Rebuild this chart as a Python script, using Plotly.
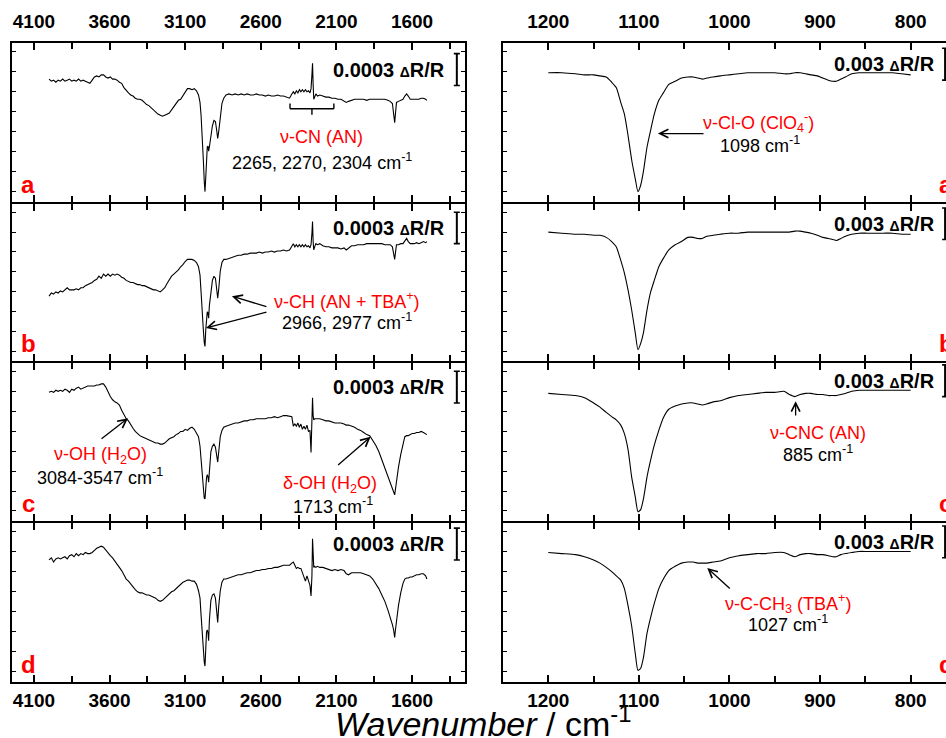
import plotly.graph_objects as go

# ---------------- spectra ----------------
# Mid-IR window (left column), wavenumber in cm-1
WN_MID = [4000, 3985, 3970, 3955, 3940, 3925, 3910, 3895, 3880, 3865,
          3850, 3835, 3820, 3805, 3790, 3775, 3760, 3745, 3730, 3715,
          3700, 3685, 3670, 3655, 3640, 3625, 3610, 3595, 3580, 3565,
          3550, 3535, 3520, 3505, 3490, 3475, 3460, 3445, 3430, 3415,
          3400, 3385, 3370, 3355, 3340, 3325, 3310, 3295, 3280, 3265,
          3250, 3235, 3220, 3205, 3190, 3175, 3160, 3145, 3130, 3115,
          3100, 3085, 3070, 3055, 3040, 3025, 3012, 3002, 2995, 2988,
          2980, 2974, 2969, 2964, 2959, 2954, 2949, 2945, 2940, 2930,
          2920, 2910, 2900, 2892, 2885, 2878, 2868, 2857, 2845, 2830,
          2810, 2790, 2770, 2750, 2730, 2710, 2690, 2670, 2650, 2630,
          2610, 2590, 2570, 2550, 2530, 2510, 2490, 2470, 2450, 2430,
          2410, 2395, 2385, 2375, 2365, 2355, 2345, 2335, 2325, 2315,
          2305, 2295, 2285, 2275, 2268, 2262, 2258, 2254, 2250, 2244,
          2236, 2225, 2210, 2190, 2170, 2150, 2130, 2110, 2090, 2070,
          2050, 2035, 2020, 2000, 1980, 1960, 1940, 1920, 1900, 1880,
          1860, 1840, 1820, 1800, 1780, 1760, 1745, 1730, 1722, 1715,
          1710, 1703, 1690, 1675, 1660, 1648, 1636, 1625, 1612, 1600,
          1585, 1570, 1555, 1540, 1525, 1510, 1502]

# dR/R (x 1e-5, offset per trace)
MID_A = [116, 114, 115, 113, 115, 114, 116, 114, 115, 116,
         114, 115, 114, 116, 114, 115, 114, 113, 112, 115,
         118, 119, 118, 120, 120, 118, 117, 118, 116, 116,
         115, 113, 112, 108, 105, 103, 101, 100, 98, 97,
         97, 96, 94, 92, 91, 89, 87, 85, 83, 82,
         81, 82, 83, 84, 87, 90, 93, 96, 97, 100,
         104, 107, 107, 106, 107, 105, 101, 94, 82, 67,
         40, 20, 10, 23, 45, 52, 53, 48, 52, 64,
         72, 77, 76, 68, 60, 67, 82, 93, 98, 101,
         102, 101, 102, 101, 102, 101, 102, 101, 101, 102,
         101, 101, 100, 101, 100, 100, 101, 100, 100, 99,
         98, 102, 104, 102, 105, 103, 106, 104, 106, 104,
         106, 104, 105, 103, 107, 120, 131, 111, 97, 99,
         102, 100, 101, 100, 99, 99, 98, 98, 97, 97,
         95, 94, 95, 96, 97, 97, 97, 97, 96, 97,
         97, 97, 97, 97, 97, 96, 95, 93, 85, 75,
         83, 94, 95, 96, 97, 100, 102, 100, 97, 97,
         97, 97, 97, 98, 98, 97, 96]

MID_B = [62, 65, 64, 66, 65, 67, 66, 68, 70, 68,
         68, 68, 69, 68, 70, 70, 72, 73, 74, 75,
         77, 78, 81, 79, 83, 81, 83, 81, 83, 82,
         83, 82, 80, 79, 77, 76, 75, 75, 74, 73,
         73, 72, 72, 71, 70, 69, 68, 68, 67, 66,
         68, 70, 74, 78, 81, 83, 85, 87, 90, 92,
         95, 97, 97, 97, 96, 94, 90, 82, 66, 44,
         30, 18, 14, 30, 44, 47, 46, 41, 53, 67,
         77, 81, 79, 69, 60, 69, 86, 94, 97, 97,
         98, 99, 100, 101, 101, 102, 102, 103, 103, 103,
         104, 103, 104, 104, 105, 104, 105, 105, 106, 105,
         106, 110, 112, 109, 111, 109, 111, 109, 111, 109,
         111, 109, 110, 108, 111, 122, 133, 114, 106, 109,
         112, 111, 112, 110, 109, 109, 108, 108, 108, 107,
         108, 106, 108, 110, 110, 111, 111, 111, 112, 112,
         112, 112, 112, 112, 111, 111, 111, 109, 103, 97,
         103, 111, 111, 112, 112, 114, 117, 114, 112, 112,
         112, 113, 112, 113, 114, 113, 114]

MID_C = [122, 123, 122, 124, 123, 124, 123, 125, 124, 122,
         125, 124, 126, 127, 125, 126, 127, 128, 128, 128,
         128, 129, 129, 130, 130, 127, 122, 118, 115, 113,
         112, 110, 105, 101, 97, 95, 91, 88, 85, 83,
         81, 80, 79, 78, 77, 76, 75, 74, 74, 73,
         73, 74, 76, 78, 79, 80, 82, 83, 85, 85,
         87, 86, 88, 89, 87, 83, 80, 71, 58, 44,
         30, 22, 21, 35, 41, 44, 42, 37, 51, 66,
         71, 73, 70, 63, 56, 66, 80, 86, 89, 90,
         91, 92, 93, 93, 94, 95, 95, 96, 96, 97,
         97, 97, 97, 98, 98, 99, 98, 99, 100, 100,
         99, 99, 90, 92, 90, 93, 89, 92, 87, 90,
         87, 91, 85, 86, 65, 86, 117, 100, 96, 97,
         97, 97, 97, 96, 95, 95, 94, 93, 93, 93,
         92, 91, 91, 90, 89, 87, 86, 84, 82, 81,
         77, 72, 66, 58, 51, 42, 37, 31, 27, 25,
         30, 39, 51, 63, 74, 80, 81, 81, 82, 83,
         83, 84, 84, 85, 84, 83, 82]

MID_D = [115, 117, 113, 116, 117, 116, 117, 118, 116, 119,
         120, 118, 121, 119, 121, 120, 122, 121, 121, 122,
         124, 126, 127, 128, 127, 124, 121, 119, 117, 114,
         112, 109, 105, 101, 97, 95, 92, 90, 87, 85,
         84, 84, 83, 82, 82, 81, 80, 79, 77, 76,
         77, 79, 81, 83, 85, 86, 88, 90, 92, 94,
         95, 96, 96, 95, 95, 92, 86, 79, 63, 44,
         28, 19, 15, 32, 47, 49, 46, 39, 58, 77,
         82, 83, 79, 67, 56, 72, 86, 94, 97, 97,
         98, 99, 100, 101, 101, 102, 103, 103, 104, 105,
         105, 106, 106, 107, 107, 108, 108, 109, 110, 110,
         110, 112, 113, 110, 107, 108, 107, 107, 103, 97,
         95, 100, 96, 91, 81, 100, 135, 114, 108, 109,
         108, 109, 108, 108, 107, 106, 105, 106, 105, 106,
         105, 102, 101, 103, 103, 103, 103, 102, 101, 100,
         97, 93, 88, 82, 76, 68, 62, 54, 49, 42,
         49, 58, 72, 84, 93, 97, 98, 98, 99, 99,
         100, 101, 101, 102, 102, 100, 97]

# Low-wavenumber window (right column)
WN_LOW = [1200, 1185, 1170, 1160, 1150, 1143, 1136, 1130, 1125, 1120,
          1116, 1112, 1108, 1104, 1101, 1098, 1095, 1091, 1087, 1083,
          1078, 1073, 1067, 1060, 1053, 1046, 1040, 1035, 1030, 1025,
          1018, 1010, 1000, 990, 980, 970, 960, 950, 940, 934,
          928, 922, 916, 910, 903, 897, 891, 886, 882, 877,
          872, 865, 857, 848, 840, 830, 820, 810, 800]

# dR/R (x 1e-4, offset per trace)
LOW_A = [122, 122, 121, 120, 120, 119, 118, 113, 108, 94,
         83, 63, 40, 22, 10, 16, 29, 52, 68, 83,
         96, 103, 111, 114, 117, 118, 118, 117, 116, 117,
         118, 119, 120, 121, 122, 122, 122, 122, 121, 121,
         122, 122, 121, 120, 119, 117, 115, 114, 114, 116,
         118, 121, 122, 122, 122, 122, 122, 121, 120]

LOW_B = [123, 122, 121, 121, 120, 120, 118, 114, 109, 96,
         84, 68, 49, 27, 11, 17, 27, 49, 66, 77,
         90, 98, 106, 111, 114, 118, 118, 117, 117, 119,
         120, 121, 122, 122, 123, 123, 123, 123, 123, 123,
         124, 124, 123, 122, 120, 118, 117, 116, 115, 117,
         119, 121, 122, 122, 122, 122, 122, 121, 121]

LOW_C = [121, 120, 119, 117, 112, 108, 103, 99, 96, 91,
         83, 68, 42, 23, 9, 11, 21, 42, 58, 72,
         86, 98, 106, 109, 111, 112, 112, 111, 110, 111,
         113, 114, 117, 119, 120, 121, 122, 122, 123, 120,
         118, 120, 121, 121, 120, 120, 119, 119, 119, 120,
         121, 123, 124, 124, 124, 124, 124, 124, 124]

LOW_D = [122, 121, 120, 118, 115, 112, 108, 104, 100, 96,
         88, 72, 53, 27, 11, 13, 23, 46, 61, 74,
         88, 97, 105, 109, 112, 113, 113, 112, 112, 112,
         113, 114, 117, 119, 120, 121, 121, 122, 122, 120,
         118, 120, 121, 121, 120, 120, 119, 118, 118, 120,
         121, 122, 123, 123, 123, 123, 123, 123, 123]

PANELS = ["a", "b", "c", "d"]
MID_SERIES = [MID_A, MID_B, MID_C, MID_D]
LOW_SERIES = [LOW_A, LOW_B, LOW_C, LOW_D]

MID_BAR = 30      # 0.0003 dR/R in units of 1e-5
LOW_BAR = 30      # 0.003 dR/R in units of 1e-4

for s in MID_SERIES:
    assert len(s) == len(WN_MID)
for s in LOW_SERIES:
    assert len(s) == len(WN_LOW)

# ---------------- layout helpers ----------------
W, H = 946, 738
FONT = "Liberation Sans, Arial, Helvetica, sans-serif"
RED = "#ff0000"
LW = 1.6   # frame line width

X_LEFT = [12 / W, 465 / W]
X_RIGHT = [503 / W, 1.0]
EDGES = [43, 203, 362, 522, 682]
Y_DOMAINS = []
for i in range(4):
    t = EDGES[i] + (LW / 2 if i > 0 else 0)
    b = EDGES[i + 1] - (LW / 2 if i < 3 else 0)
    Y_DOMAINS.append([1 - b / H, 1 - t / H])

MID_RANGE = [4245, 1250]
LOW_RANGE = [1250, 761]
Y_RANGE = [0, 150]

fig = go.Figure()
layout = dict(
    width=W, height=H,
    margin=dict(l=0, r=0, t=0, b=0),
    paper_bgcolor="white", plot_bgcolor="white",
    showlegend=False,
    font=dict(family=FONT, color="black"),
)


def x_axis(rng, dom, side, labels, major, minor, tick0, anchor):
    return dict(
        domain=dom, range=rng, anchor=anchor, side=side,
        showline=True, linecolor="black", linewidth=LW, mirror="ticks",
        ticks="inside", ticklen=7, tickwidth=1.5, tickcolor="black",
        tickmode="linear", tick0=tick0, dtick=major,
        minor=dict(ticks="inside", ticklen=6, tickwidth=1.5, tickcolor="black",
                   dtick=minor, tick0=tick0),
        showticklabels=labels, ticklabelstandoff=6 if side == "top" else 0,
        tickfont=dict(family=FONT, size=19, color="black", weight="bold"),
        showgrid=False, zeroline=False, fixedrange=True,
    )


def y_axis(dom, anchor, mirror):
    return dict(
        domain=dom, range=Y_RANGE, anchor=anchor,
        showline=True, linecolor="black", linewidth=LW,
        mirror="ticks" if mirror else False,
        ticks="inside", ticklen=4, tickwidth=1.3, tickcolor="black",
        tickmode="linear", tick0=9.7, dtick=18.9,
        showticklabels=False, showgrid=False, zeroline=False, fixedrange=True,
    )


annotations = []
shapes = []


def ax_name(n, kind):
    return kind if n == 1 else f"{kind}{n}"


def note(n, x, y, text, color="black", size=18, bold=False, xanchor="center", yanchor="middle"):
    annotations.append(dict(
        xref=ax_name(n, "x"), yref=ax_name(n, "y"), x=x, y=y, text=text,
        showarrow=False, xanchor=xanchor, yanchor=yanchor,
        font=dict(family=FONT, size=size, color=color, weight="bold" if bold else "normal"),
    ))


def arrow(n, tail, tip):
    annotations.append(dict(
        xref=ax_name(n, "x"), yref=ax_name(n, "y"),
        axref=ax_name(n, "x"), ayref=ax_name(n, "y"),
        x=tip[0], y=tip[1], ax=tail[0], ay=tail[1], text="",
        showarrow=True, arrowhead=5, arrowsize=1.3, arrowwidth=1.3,
        arrowcolor="black", standoff=0, startstandoff=0,
    ))


def seg(n, x0, y0, x1, y1, width=1.5):
    shapes.append(dict(type="line", xref=ax_name(n, "x"), yref=ax_name(n, "y"),
                       x0=x0, y0=y0, x1=x1, y1=y1,
                       line=dict(color="black", width=width)))


def scale_bar(n, x, y0, length, serif):
    seg(n, x, y0, x, y0 + length, 2)
    seg(n, x - serif, y0, x + serif, y0, 1.6)
    seg(n, x - serif, y0 + length, x + serif, y0 + length, 1.6)


DELTA = "<span style='font-size:14px'>Δ</span>"

for i, p in enumerate(PANELS):
    nl, nr = i + 1, i + 5
    dom = Y_DOMAINS[i]
    top = i == 0
    bottom = i == 3
    side = "top" if top else "bottom"
    labels = top or bottom

    layout[ax_name(nl, "xaxis")] = x_axis(MID_RANGE, X_LEFT, side, labels, 500, 250, 1600, ax_name(nl, "y"))
    layout[ax_name(nl, "yaxis")] = y_axis(dom, ax_name(nl, "x"), True)
    layout[ax_name(nr, "xaxis")] = x_axis(LOW_RANGE, X_RIGHT, side, labels, 100, 50, 800, ax_name(nr, "y"))
    layout[ax_name(nr, "yaxis")] = y_axis(dom, ax_name(nr, "x"), False)

    fig.add_trace(go.Scatter(x=WN_MID, y=MID_SERIES[i], mode="lines",
                             line=dict(color="black", width=1.1),
                             xaxis=ax_name(nl, "x"), yaxis=ax_name(nl, "y"),
                             hoverinfo="skip"))
    fig.add_trace(go.Scatter(x=WN_LOW, y=LOW_SERIES[i], mode="lines",
                             line=dict(color="black", width=1.1, shape="spline", smoothing=0.6),
                             xaxis=ax_name(nr, "x"), yaxis=ax_name(nr, "y"),
                             hoverinfo="skip"))

    # panel letters
    note(nl, 4139, 16.5, f"<b>{p}</b>", RED, 24, True)
    note(nr, 771, 16.5, f"<b>{p}</b>", RED, 24, True, xanchor="left")

    # scale bars and their captions
    bar_mid = [110, 112, 112, 115][i]
    bar_low = [115, 116, 118, 117][i]
    scale_bar(nl, 1304, bar_mid, MID_BAR, 20)
    scale_bar(nr, 762, bar_low, LOW_BAR, 3.3)
    note(nl, 1370, bar_mid + 15, f"<b>0.0003 {DELTA}R/R</b>", "black", 20, True, xanchor="right")
    note(nr, 771, bar_low + 15, f"<b>0.003 {DELTA}R/R</b>", "black", 20, True, xanchor="right")

# ---- band assignments ----
# (a) nitrile stretch bracket
seg(1, 2407, 88, 2117, 88, 1.4)
seg(1, 2407, 88, 2407, 93, 1.4)
seg(1, 2117, 88, 2117, 93, 1.4)
seg(1, 2262, 88, 2262, 82.5, 1.4)
note(1, 2196, 61, "ν-CN (AN)", RED)
note(1, 2196, 38.5, "2265, 2270, 2304 cm<sup>-1</sup>")

# (b) C-H stretches
arrow(2, (2553, 51.6), (2791, 61.9))
arrow(2, (2553, 47.2), (2963, 31.6))
note(2, 2031, 58, "ν-CH (AN + TBA<sup>+</sup>)", RED)
note(2, 2031, 37.8, "2966, 2977 cm<sup>-1</sup>")

# (c) water bands
arrow(3, (3663, 76.9), (3478, 97.5))
note(3, 3663, 62, "ν-OH (H<sub>2</sub>O)", RED)
note(3, 3663, 42.5, "3084-3547 cm<sup>-1</sup>")
arrow(3, (2099, 51.9), (1874, 80))
note(3, 2143, 34.7, "δ-OH (H<sub>2</sub>O)", RED)
note(3, 2121, 15, "1713 cm<sup>-1</sup>")

# right column assignments
arrow(5, (1027, 64.7), (1079, 64.7))
note(5, 968, 75.3, "ν-Cl-O (ClO<sub>4</sub><sup>-</sup>)", RED)
note(5, 966, 54.4, "1098 cm<sup>-1</sup>")

arrow(7, (927, 98.7), (927, 113.7))
note(7, 902, 83.1, "ν-CNC (AN)", RED)
note(7, 902, 64.4, "885 cm<sup>-1</sup>")

arrow(8, (998, 86.9), (1024.5, 107.5))
note(8, 935, 73.8, "ν-C-CH<sub>3</sub> (TBA<sup>+</sup>)", RED)
note(8, 935, 55, "1027 cm<sup>-1</sup>")

# shared axis title
annotations.append(dict(
    xref="paper", yref="paper", x=483 / W, y=1 - 721 / H,
    text="<i>Wavenumber</i> / cm<sup>-1</sup>", showarrow=False,
    xanchor="center", yanchor="middle",
    font=dict(family=FONT, size=34, color="black"),
))

layout["annotations"] = annotations
layout["shapes"] = shapes
fig.update_layout(**layout)

fig.write_html("out.html")
